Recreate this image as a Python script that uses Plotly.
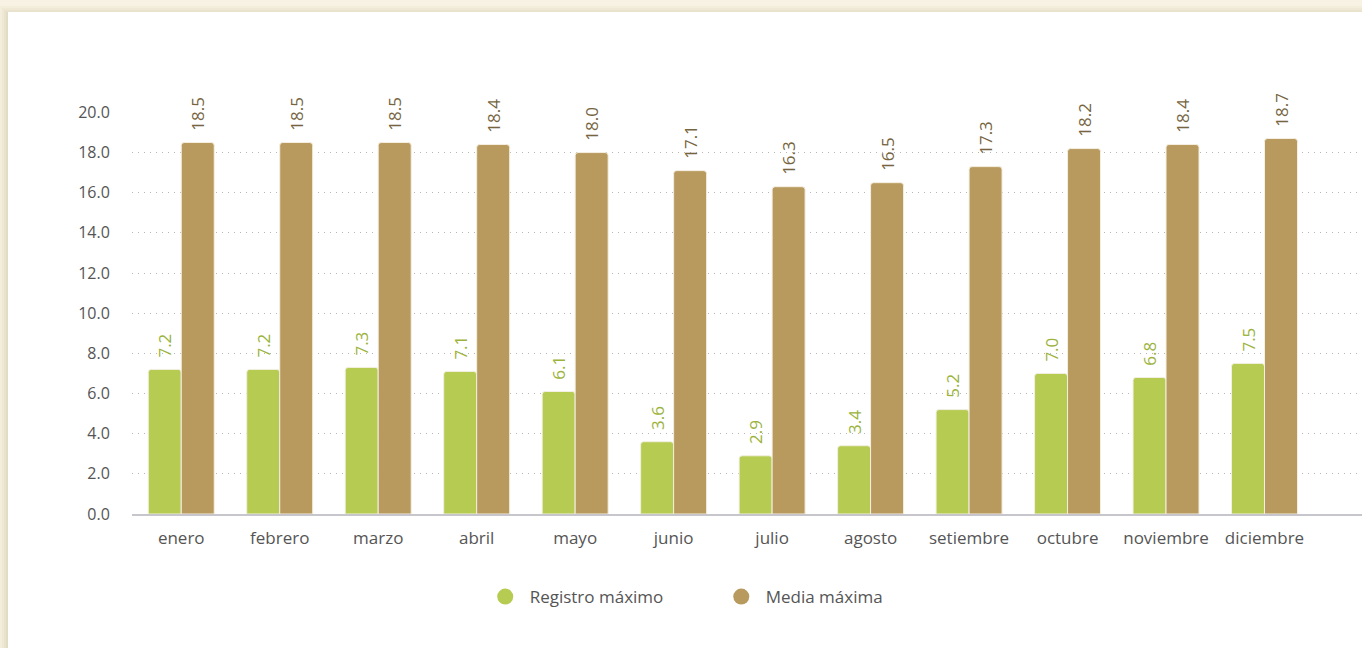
import plotly.graph_objects as go

# Monthly temperature data
meses = ["enero", "febrero", "marzo", "abril", "mayo", "junio", "julio",
         "agosto", "setiembre", "octubre", "noviembre", "diciembre"]
registro_maximo = [7.2, 7.2, 7.3, 7.1, 6.1, 3.6, 2.9, 3.4, 5.2, 7.0, 6.8, 7.5]
media_maxima = [18.5, 18.5, 18.5, 18.4, 18.0, 17.1, 16.3, 16.5, 17.3, 18.2, 18.4, 18.7]
y_ticks = [0, 2, 4, 6, 8, 10, 12, 14, 16, 18, 20]

VERDE = "#b6cb52"
MARRON = "#b89a5e"
VERDE_TXT = "#9bb33d"
MARRON_TXT = "#76653f"
FONT = "Open Sans"
NBSP = "\u00a0"

fig = go.Figure()

for nombre, valores, color, color_txt, sufijo in [
    ("Registro máximo", registro_maximo, VERDE, VERDE_TXT, NBSP * 12),
    ("Media máxima", media_maxima, MARRON, MARRON_TXT, ""),
]:
    fig.add_trace(go.Bar(
        x=meses, y=valores, name=nombre,
        marker=dict(color=color, line=dict(color="#f4efe2", width=1)),
        text=[f"{NBSP * 2}{v:.1f}" for v in valores],
        textposition="outside", textangle=-90,
        textfont=dict(family=FONT, size=17, color=color_txt),
        constraintext="none", cliponaxis=False,
        showlegend=False, hoverinfo="x+y",
    ))
    # circular legend markers
    fig.add_trace(go.Scatter(
        x=[None], y=[None], mode="markers", name=NBSP + nombre + sufijo,
        marker=dict(color=color, size=16, symbol="circle"),
        showlegend=True,
    ))

# plot area spans x 132..1362, y 112..514 in a 1362x648 page
PX_L, PX_R, PY_T, PY_B = 132, 1362, 112, 514
W, H = PX_R - PX_L, PY_B - PY_T


def px(x):
    return (x - PX_L) / W


def py(y):
    return (PY_B - y) / H


shapes = []
# soft shadow around the white card
for i, op in enumerate([0.05, 0.06, 0.07, 0.08]):
    d = 8 - 2 * i
    shapes.append(dict(type="rect", xref="paper", yref="paper", layer="below",
                       x0=px(8 - d), x1=px(1400), y0=py(700), y1=py(12 - d + 2),
                       fillcolor=f"rgba(170,150,100,{op})", line=dict(width=0)))
shapes.append(dict(type="rect", xref="paper", yref="paper", layer="below",
                   x0=px(8), x1=px(1400), y0=py(700), y1=py(12),
                   fillcolor="white", line=dict(width=0)))

fig.update_layout(
    width=1362, height=648,
    margin=dict(l=PX_L, r=1362 - PX_R, t=PY_T, b=648 - PY_B),
    paper_bgcolor="#f7f2e3", plot_bgcolor="rgba(0,0,0,0)",
    barmode="group", bargap=0.33, bargroupgap=0, barcornerradius=3,
    font=dict(family=FONT, size=16, color="#555555"),
    shapes=shapes,
    xaxis=dict(
        type="category", range=[-0.5, 11.99], showgrid=False,
        showline=True, linecolor="#c6c6cc", linewidth=2,
        ticks="outside", ticklen=8, tickcolor="rgba(0,0,0,0)",
        tickfont=dict(family=FONT, size=17, color="#555555"),
        fixedrange=True,
    ),
    yaxis=dict(
        range=[0, 20.02], tickvals=y_ticks, tickformat=".1f",
        showgrid=True, gridcolor="#b5b5b5", griddash="1px,5px", gridwidth=1.2,
        zeroline=False, showline=False,
        ticks="outside", ticklen=18, tickcolor="rgba(0,0,0,0)",
        tickfont=dict(family=FONT, size=16, color="#555555"),
        fixedrange=True,
    ),
    legend=dict(
        orientation="h", x=0.451, xanchor="center", y=py(597), yanchor="middle",
        font=dict(family=FONT, size=17, color="#555555"),
        itemsizing="trace", itemwidth=30, tracegroupgap=0,
        bgcolor="rgba(0,0,0,0)",
    ),
)

fig.write_html("out.html")
